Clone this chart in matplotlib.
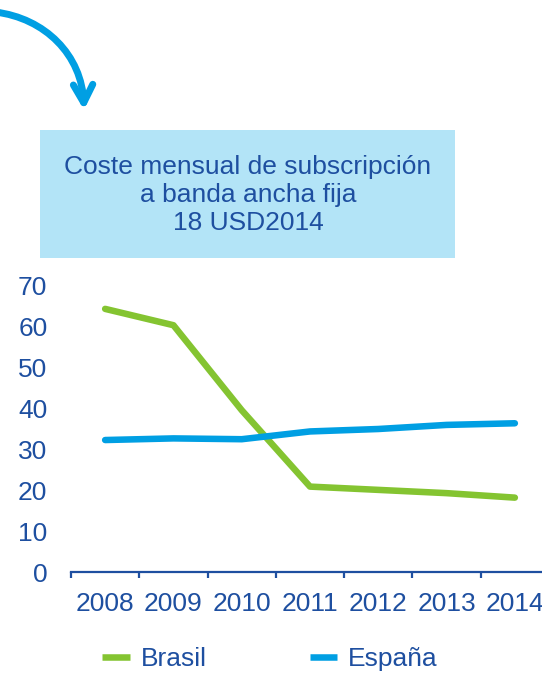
import matplotlib
matplotlib.use("Agg")
import matplotlib.pyplot as plt
import numpy as np
from matplotlib.path import Path
from matplotlib.patches import FancyArrowPatch, Rectangle
from matplotlib.lines import Line2D

plt.rcParams['font.family'] = ['Liberation Sans', 'DejaVu Sans']

years = ['2008', '2009', '2010', '2011', '2012', '2013', '2014']
brasil = [64.4, 60.4, 39.6, 20.9, 20.1, 19.3, 18.2]
espana = [32.3, 32.7, 32.5, 34.4, 35.0, 36.0, 36.4]
yticks = [0, 10, 20, 30, 40, 50, 60, 70]

DARK = '#1E4FA0'
GREEN = '#84C431'
BLUE = '#009FE3'
BOX = '#B3E4F7'
FS = 19

W, H = 542, 678
fig = plt.figure(figsize=(W / 100, H / 100), dpi=100)

left, right, top, bottom = 71, 549, 286, 572
ax = fig.add_axes([left / W, (H - bottom) / H, (right - left) / W, (bottom - top) / H])
x = np.arange(len(years))
ax.plot(x, brasil, color=GREEN, lw=4.7, solid_capstyle='round', solid_joinstyle='round')
ax.plot(x, espana, color=BLUE, lw=4.7, solid_capstyle='round', solid_joinstyle='round')
ax.set_xlim(-0.5, len(years) - 0.5)
ax.set_ylim(0, 70)
ax.set_yticks(yticks)
ax.set_yticklabels([str(v) for v in yticks])
ax.set_xticks(np.arange(len(years) + 1) - 0.5)
ax.set_xticklabels([])
ax.set_xticks(x, minor=True)
ax.set_xticklabels(years, minor=True)
for s in ['top', 'right', 'left']:
    ax.spines[s].set_visible(False)
ax.spines['bottom'].set_color(DARK)
ax.spines['bottom'].set_linewidth(1.6)
ax.tick_params(axis='x', which='major', length=4.5, width=1.6, color=DARK, direction='out')
ax.tick_params(axis='x', which='minor', length=0, pad=14.5, labelsize=FS, labelcolor=DARK)
ax.tick_params(axis='y', length=0, pad=17, labelsize=FS, labelcolor=DARK)
ax.patch.set_alpha(0)

h1 = Line2D([], [], color=GREEN, lw=4.7, solid_capstyle='butt')
h2 = Line2D([], [], color=BLUE, lw=4.7, solid_capstyle='butt')
fig.legend(handles=[h1, h2], labels=['Brasil', 'España'], loc='center',
           bbox_to_anchor=(270 / W, (H - 659) / H),
           ncol=2, frameon=False, fontsize=FS, handlelength=1.05, handletextpad=0.4,
           columnspacing=3.9, labelcolor=DARK)

ov = fig.add_axes([0, 0, 1, 1])
ov.set_xlim(0, W)
ov.set_ylim(H, 0)
ov.axis('off')
ov.patch.set_alpha(0)
ov.add_patch(Rectangle((40, 130), 415, 128, facecolor=BOX, edgecolor='none'))
ov.text(248, 195, 'Coste mensual de subscripción\na banda ancha fija\n18 USD2014',
        ha='center', va='center', color=DARK, fontsize=FS, linespacing=1.2)

verts = [(-5, 12), (45, 18), (82, 55), (84, 110)]
codes = [Path.MOVETO, Path.CURVE4, Path.CURVE4, Path.CURVE4]
arrow = FancyArrowPatch(path=Path(verts, codes), arrowstyle='->,head_length=13,head_width=7',
                        color=BLUE, lw=5, capstyle='round', joinstyle='round')
ov.add_patch(arrow)

fig.savefig('out.png', dpi=100)
